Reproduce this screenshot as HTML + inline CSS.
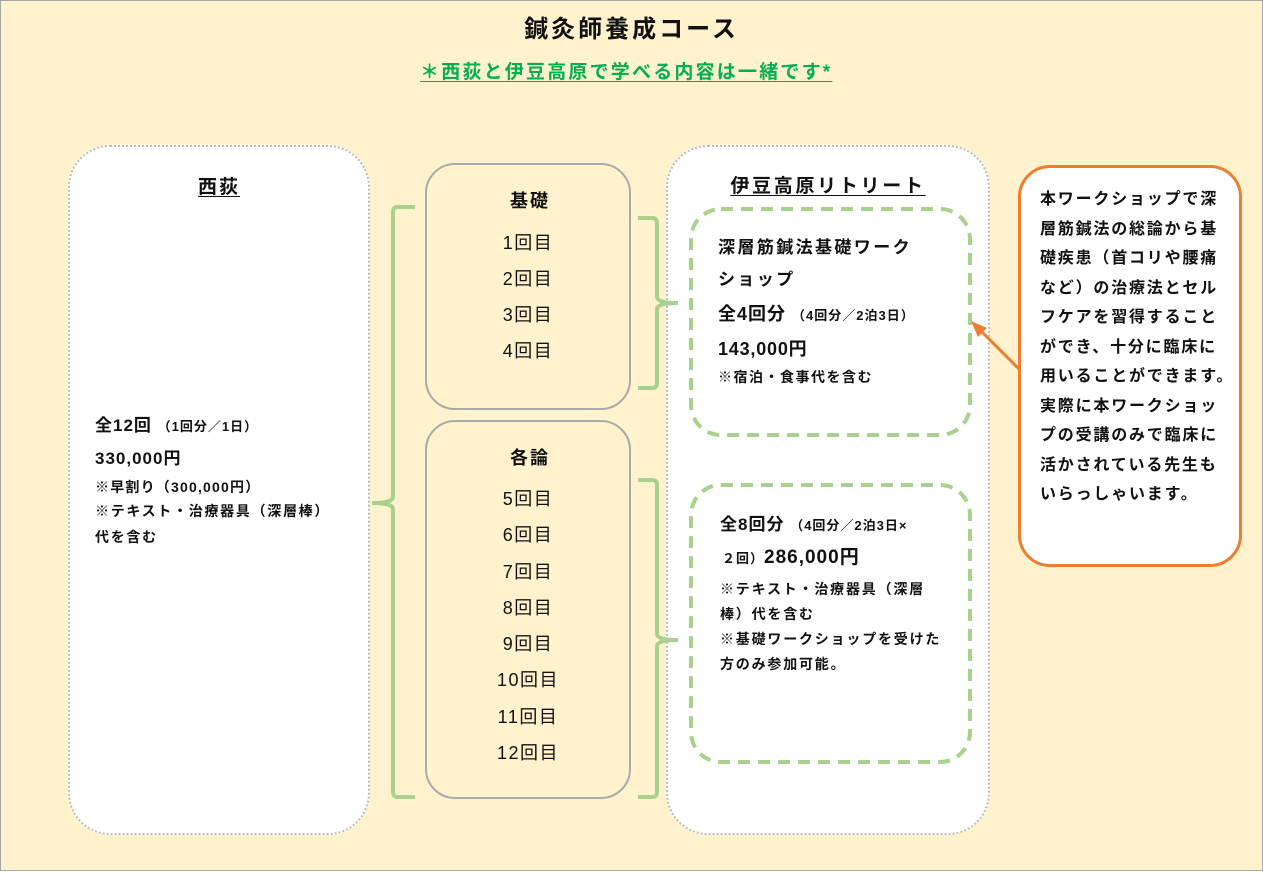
<!DOCTYPE html>
<html><head><meta charset="utf-8"><style>
*{margin:0;padding:0;box-sizing:border-box}
body{width:1263px;height:873px;background:#fff;position:relative;overflow:hidden;font-family:"Liberation Sans","Noto Sans CJK JP",sans-serif;color:#111}
.bg{position:absolute;left:0;top:0;width:1263px;height:871px;background:#fff2cc;border:1px solid #a6a6a6}
.a{position:absolute;white-space:nowrap}
.b{font-weight:bold}
.box{position:absolute}
</style></head><body>
<div class="bg"></div>
<div class="a b" style="left:0;width:1263px;text-align:center;top:9px;font-size:24px;letter-spacing:3px">鍼灸師養成コース</div>
<div class="a b" style="left:420px;top:57px;font-size:19px;letter-spacing:2.2px;color:#00b050;text-decoration:underline;text-underline-offset:3px">＊西荻と伊豆高原で学べる内容は一緒です*</div>

<div class="box" style="left:68px;top:145px;width:302px;height:690px;background:#fff;border:2px dotted #bbb;border-radius:42px"></div>
<div class="box" style="left:666px;top:145px;width:324px;height:690px;background:#fff;border:2px dotted #bbb;border-radius:42px"></div>
<div class="box" style="left:425px;top:163px;width:206px;height:247px;border:2px solid #aaa;border-radius:30px"></div>
<div class="box" style="left:425px;top:420px;width:206px;height:379px;border:2px solid #aaa;border-radius:30px"></div>
<div class="box" style="left:1018px;top:165px;width:224px;height:402px;background:#fff;border:3px solid #ed7d31;border-radius:32px"></div>

<svg width="1263" height="873" style="position:absolute;left:0;top:0">
<g fill="none" stroke="#a9d18e" stroke-width="4">
<rect x="691" y="209" width="279" height="226" rx="30" stroke-dasharray="12 8"/>
<rect x="691" y="485" width="279" height="277" rx="30" stroke-dasharray="12 8"/>
<path d="M415 207 H398 Q393 207 393 212 V497 Q393 503 372 503 Q393 503 393 509 V792 Q393 797 398 797 H415"/>
<path d="M638 218 H652 Q657 218 657 223 V297 Q657 303 678 303 Q657 303 657 309 V383 Q657 388 652 388 H638"/>
<path d="M638 480 H652 Q657 480 657 485 V634 Q657 640 678 640 Q657 640 657 646 V792 Q657 797 652 797 H638"/>
</g>
<line x1="1020" y1="370" x2="978" y2="328" stroke="#ed7d31" stroke-width="3"/>
<polygon points="971,321 987,328 978,337" fill="#ed7d31"/>
</svg>

<div class="a b" style="left:68px;width:302px;text-align:center;top:172px;font-size:19px;letter-spacing:2px;text-decoration:underline;text-underline-offset:3px">西荻</div>
<div class="a b" style="left:95px;top:411px;font-size:17px;letter-spacing:1px">全12回 <span style="font-size:13px;letter-spacing:1px">（1回分／1日）</span></div>
<div class="a b" style="left:95px;top:444px;font-size:17px;letter-spacing:1px">330,000円</div>
<div class="a b" style="left:95px;top:477px;font-size:14px;letter-spacing:1.2px">※早割り（300,000円）</div>
<div class="a b" style="left:95px;top:501px;font-size:14px;letter-spacing:1.7px">※テキスト・治療器具（深層棒）</div>
<div class="a b" style="left:95px;top:527px;font-size:14px;letter-spacing:1.7px">代を含む</div>

<div class="a b" style="left:427px;width:206px;text-align:center;top:187px;font-size:18px;letter-spacing:2px">基礎</div>
<div class="a" style="left:425px;width:206px;text-align:center;top:225px;font-size:18px;letter-spacing:1.5px;line-height:36px">1回目<br>2回目<br>3回目<br>4回目</div>
<div class="a b" style="left:427px;width:206px;text-align:center;top:444px;font-size:18px;letter-spacing:2px">各論</div>
<div class="a" style="left:425px;width:206px;text-align:center;top:481px;font-size:18px;letter-spacing:1.5px;line-height:36.3px">5回目<br>6回目<br>7回目<br>8回目<br>9回目<br>10回目<br>11回目<br>12回目</div>

<div class="a b" style="left:666px;width:324px;text-align:center;top:171px;font-size:19px;letter-spacing:2.7px;text-decoration:underline;text-underline-offset:3px">伊豆高原リトリート</div>
<div class="a b" style="left:718px;top:233px;font-size:17px;letter-spacing:2.4px">深層筋鍼法基礎ワーク</div>
<div class="a b" style="left:718px;top:265px;font-size:17px;letter-spacing:2.4px">ショップ</div>
<div class="a b" style="left:718px;top:300px;font-size:18px;letter-spacing:1px">全4回分 <span style="font-size:13px;letter-spacing:1px">（4回分／2泊3日）</span></div>
<div class="a b" style="left:718px;top:335px;font-size:18px;letter-spacing:0.8px">143,000円</div>
<div class="a b" style="left:718px;top:367px;font-size:14px;letter-spacing:1.5px">※宿泊・食事代を含む</div>

<div class="a b" style="left:720px;top:510px;font-size:17px;letter-spacing:1px">全8回分 <span style="font-size:13px;letter-spacing:1px">（4回分／2泊3日×</span></div>
<div class="a b" style="left:722px;top:542px;font-size:19px;letter-spacing:1px"><span style="font-size:13px;letter-spacing:1px">２回）</span>286,000円</div>
<div class="a b" style="left:720px;top:577px;font-size:14px;letter-spacing:1.8px;line-height:25px">※テキスト・治療器具（深層<br>棒）代を含む<br>※基礎ワークショップを受けた<br>方のみ参加可能。</div>

<div class="a b" style="left:1040px;top:185px;font-size:16px;letter-spacing:1.8px;line-height:29.5px">本ワークショップで深<br>層筋鍼法の総論から基<br>礎疾患（首コリや腰痛<br>など）の治療法とセル<br>フケアを習得すること<br>ができ、十分に臨床に<br>用いることができます。<br>実際に本ワークショッ<br>プの受講のみで臨床に<br>活かされている先生も<br>いらっしゃいます。</div>
</body></html>
